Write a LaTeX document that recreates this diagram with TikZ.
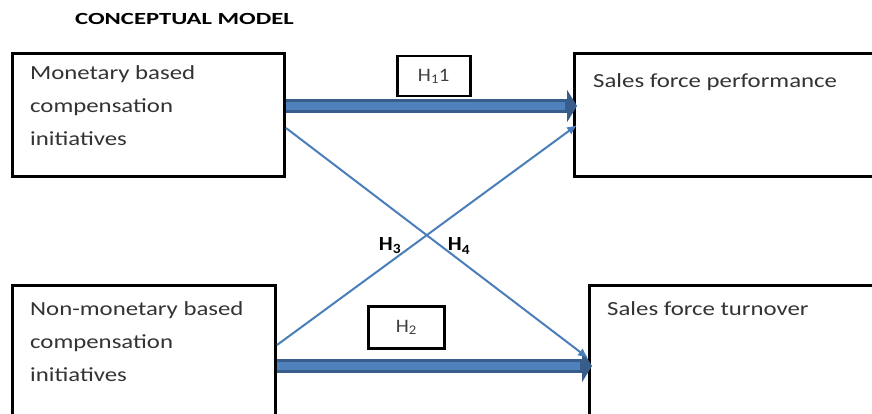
\documentclass[tikz,border=0pt]{standalone}
\usepackage{fontspec}
\setmainfont{Carlito}
\newfontfamily\boxfont[FakeStretch=1.24]{Carlito}
\newfontfamily\titlefont[FakeStretch=1.45]{Carlito}
\newfontfamily\hfont[FakeStretch=1.1]{Carlito}
\usetikzlibrary{arrows.meta}
\definecolor{shaftblue}{HTML}{4F81BD}
\definecolor{edgeblue}{HTML}{385D8A}
\definecolor{lineblue}{HTML}{4A7EBB}
\tikzset{
  x=1pt, y=-1pt,
  box/.style={draw=black, line width=3pt, rectangle, inner sep=0pt, anchor=north west},
  hbox/.style={draw=black, line width=2.5pt, rectangle, inner sep=0pt, anchor=north west, text=black!75, font=\hfont\fontsize{19}{22}\selectfont},
  boxtext/.style={anchor=north west, align=left, inner sep=0pt, text=black!80, font=\boxfont\fontsize{20}{33}\selectfont},
  hlabel/.style={inner sep=0pt, font=\hfont\bfseries\fontsize{20}{22}\selectfont},
  fatedge/.style={line width=14pt, draw=edgeblue, -{Triangle[length=10pt,width=32pt]}},
  fatcore/.style={line width=8pt, draw=shaftblue},
  thin/.style={line width=2pt, draw=lineblue, -{Latex[length=10pt,width=9pt]}}
}
\begin{document}
\begin{tikzpicture}
\clip (0,0) rectangle (872,414);
\fill[white] (0,0) rectangle (872,414);

% title
\node[anchor=west, inner sep=0pt, font=\titlefont\bfseries\fontsize{17}{19}\selectfont] (title) at (75,19) {CONCEPTUAL MODEL};

% construct boxes
\node[box, minimum width=272pt, minimum height=123pt] (m) at (11,52) {};
\node[box, minimum width=330pt, minimum height=123pt] (p) at (573,52) {};
\node[box, minimum width=263pt, minimum height=160pt] (n) at (11,284) {};
\node[box, minimum width=315pt, minimum height=160pt] (t) at (588,284) {};

\node[boxtext] (mt) at (30,65) {Monetary based\\compensation\\initiatives};
\node[boxtext] (pt) at (593,73) {Sales force performance};
\node[boxtext] (nt) at (30,301) {Non-monetary based\\compensation\\initiatives};
\node[boxtext] (tt) at (607,301) {Sales force turnover};

% hypothesis boxes
\node[hbox, minimum width=73pt, minimum height=40pt] (h1) at (396,55) {H\textsubscript{1}1};
\node[hbox, minimum width=76pt, minimum height=42pt] (h2) at (367,305) {H\textsubscript{2}};

% direct effects
\coordinate (a1) at (m.east |- 0,106);
\coordinate (b1) at (p.west |- 0,106);
\coordinate (a2) at (n.east |- 0,366);
\coordinate (b2) at ([xshift=4pt]t.west |- 0,366);
\draw[fatedge] (a1) -- ([xshift=4pt]b1);
\draw[fatcore] (a1) -- ([xshift=-8pt]b1);
\draw[fatedge] (a2) -- (b2);
\draw[fatcore] (a2) -- ([xshift=-12pt]b2);

% cross effects
\draw[thin] (m.east |- 0,128) -- (t.west |- 0,358);
\draw[thin] (n.east |- 0,345) -- ([xshift=4pt]p.west |- 0,125);

\node[hlabel] (h3) at (390,246) {H\textsubscript{3}};
\node[hlabel] (h4) at (459,246) {H\textsubscript{4}};
\end{tikzpicture}
\end{document}
